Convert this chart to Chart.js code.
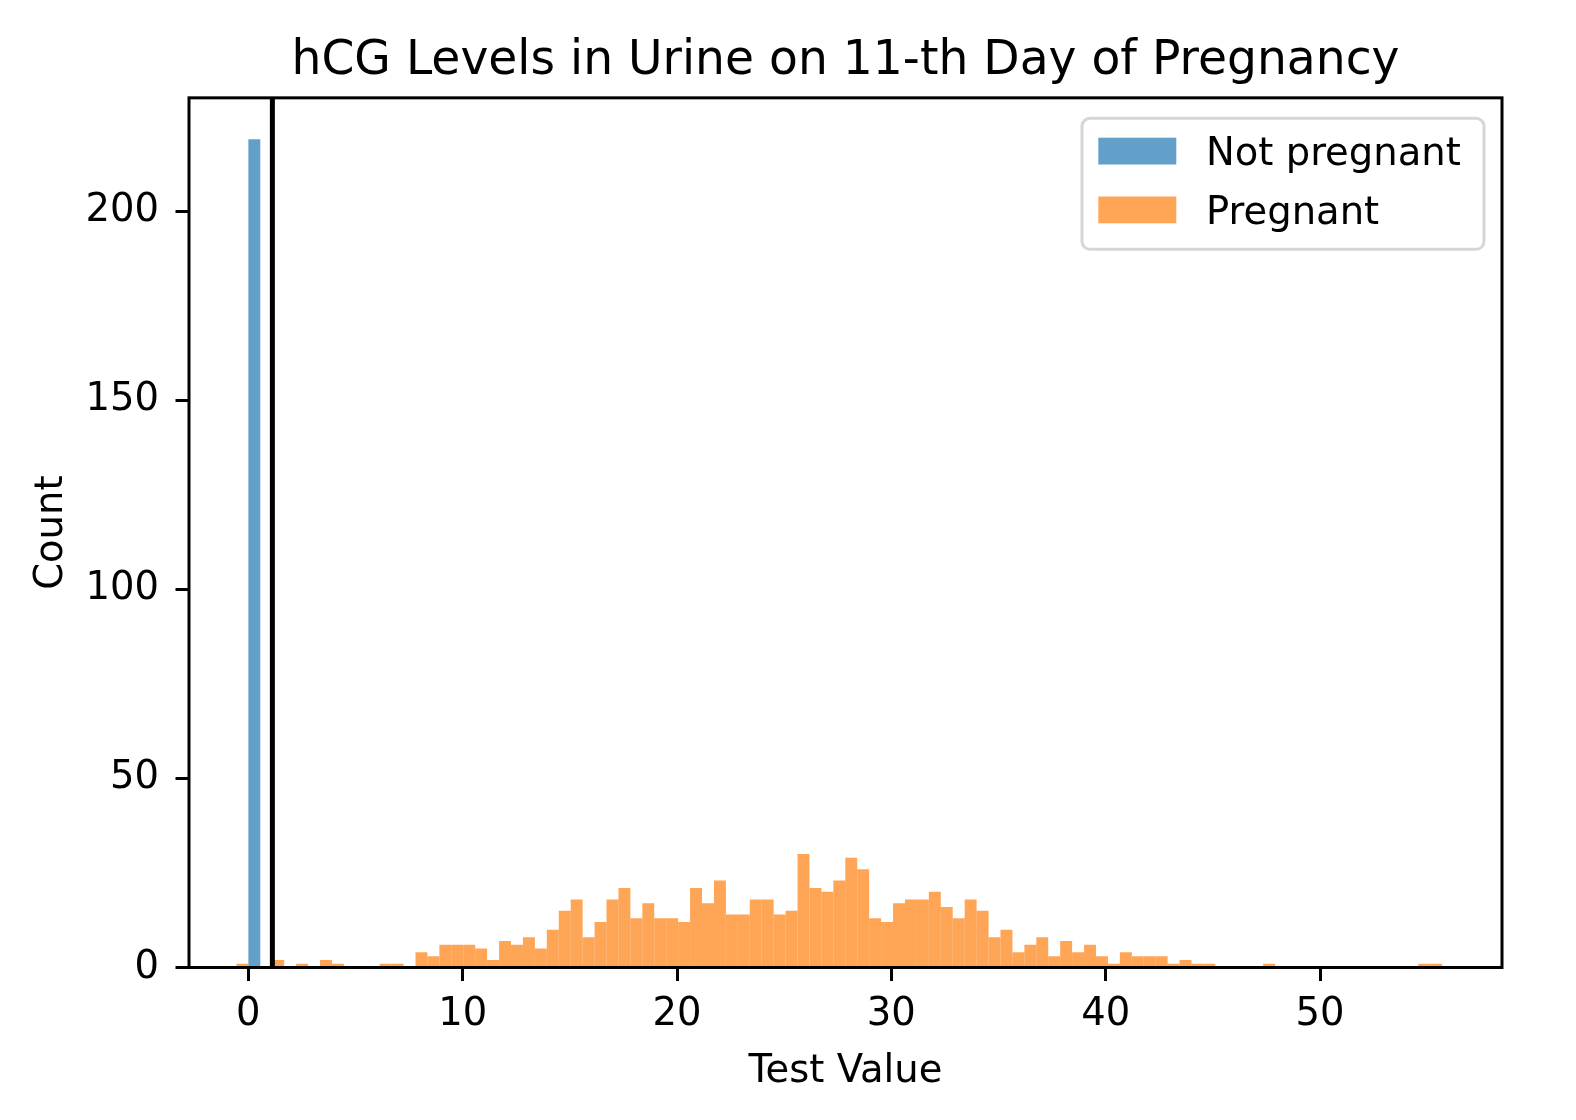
<!DOCTYPE html>
<html>
<head>
<meta charset="utf-8">
<title>hCG Levels in Urine on 11-th Day of Pregnancy</title>
<script src="https://cdn.jsdelivr.net/npm/chart.js@4/dist/chart.umd.min.js"></script>
<style>
  html, body { margin: 0; padding: 0; background: #fff; }
  #wrap { width: 1576px; height: 1120px; }
</style>
</head>
<body>
<div id="wrap"><canvas id="hist" width="1576" height="1120"></canvas></div>
<script>
// histogram bins: bin k covers [k*binWidth, (k+1)*binWidth]
const binWidth = 0.557;
const notPregnantFirstBin = 0;
const notPregnantCounts = [219];
const pregnantFirstBin = -1;
const pregnantCounts = [
  1, 0, 0, 2, 0, 1, 0, 2, 1, 0,
  0, 0, 1, 1, 0, 4, 3, 6, 6, 6,
  5, 2, 7, 6, 8, 5, 10, 15, 18, 8,
  12, 18, 21, 13, 17, 13, 13, 12, 21, 17,
  23, 14, 14, 18, 18, 14, 15, 30, 21, 20,
  23, 29, 26, 13, 12, 17, 18, 18, 20, 16,
  13, 18, 15, 8, 10, 4, 6, 8, 3, 7,
  4, 6, 3, 1, 4, 3, 3, 3, 1, 2,
  1, 1, 0, 0, 0, 0, 1, 0, 0, 0,
  0, 0, 0, 0, 0, 0, 0, 0, 0, 1,
  1
];
const threshold = 1.12;
const xTicks = [0, 10, 20, 30, 40, 50];
const yTicks = [0, 50, 100, 150, 200];
const xRange = [-2.77, 58.49];
const yRange = [0, 229.95];

const FONT = "'DejaVu Sans', sans-serif";

function toBars(counts, firstBin) {
  return counts.map((c, i) => ({ x: (firstBin + i + 0.5) * binWidth, y: c }));
}

// spines drawn over the bars, like matplotlib
const spines = {
  id: "spines",
  afterDatasetsDraw(chart) {
    const { ctx, chartArea: a } = chart;
    ctx.save();
    ctx.strokeStyle = "#000";
    ctx.lineWidth = 3;
    ctx.strokeRect(a.left, a.top, a.right - a.left, a.bottom - a.top);
    ctx.restore();
  }
};

const boxLegend = {
  id: "boxLegend",
  afterDraw(chart) {
    const { ctx } = chart;
    const items = [chart.data.datasets[0], chart.data.datasets[1]];
    ctx.save();
    ctx.beginPath();
    ctx.roundRect(1082, 118.3, 402, 131, 8);
    ctx.fillStyle = "rgba(255,255,255,0.8)";
    ctx.fill();
    ctx.strokeStyle = "#d6d6d6";
    ctx.lineWidth = 3;
    ctx.stroke();
    ctx.font = "38.5px " + FONT;
    ctx.textBaseline = "alphabetic";
    ctx.textAlign = "left";
    items.forEach((ds, i) => {
      const top = 137.7 + i * 58.8;
      ctx.fillStyle = ds.backgroundColor;
      ctx.fillRect(1098.3, top, 78, 26.8);
      ctx.fillStyle = "#000";
      ctx.fillText(ds.label, 1206, 165 + i * 58.5);
    });
    ctx.restore();
  }
};

new Chart(document.getElementById("hist"), {
  type: "bar",
  data: {
    datasets: [
      {
        label: "Not pregnant",
        data: toBars(notPregnantCounts, notPregnantFirstBin),
        backgroundColor: "rgba(31,119,180,0.7)",
        borderWidth: 0,
        inflateAmount: 0,
        barPercentage: 1,
        categoryPercentage: 1,
        grouped: false,
        order: 2
      },
      {
        label: "Pregnant",
        data: toBars(pregnantCounts, pregnantFirstBin),
        backgroundColor: "rgba(255,127,14,0.7)",
        borderWidth: 0,
        inflateAmount: 0,
        barPercentage: 1,
        categoryPercentage: 1,
        grouped: false,
        order: 1
      },
      {
        type: "line",
        label: "threshold",
        data: [{ x: threshold, y: yRange[0] }, { x: threshold, y: yRange[1] }],
        borderColor: "#000",
        borderWidth: 5,
        pointRadius: 0,
        fill: false,
        order: 0
      }
    ]
  },
  options: {
    responsive: false,
    animation: false,
    devicePixelRatio: 1,
    layout: { padding: { left: 0, right: 74, top: 0, bottom: 0 } },
    plugins: {
      legend: { display: false },
      tooltip: { enabled: false },
      title: {
        display: true,
        fullSize: false,
        text: "hCG Levels in Urine on 11-th Day of Pregnancy",
        color: "#000",
        font: { family: FONT, size: 47.2, weight: "normal", lineHeight: 1.2 },
        padding: { top: 33.5, bottom: 7.7 }
      }
    },
    scales: {
      x: {
        type: "linear",
        min: xRange[0],
        max: xRange[1],
        offset: false,
        afterBuildTicks: s => { s.ticks = xTicks.map(v => ({ value: v })); },
        afterFit: s => { s.height = 152.5; },
        grid: { display: true, offset: false, drawOnChartArea: false, drawTicks: true, tickLength: 13.5, tickWidth: 3, tickColor: "#000" },
        border: { display: false },
        ticks: { color: "#000", font: { family: FONT, size: 38.5 }, padding: 11, maxRotation: 0 },
        title: {
          display: true,
          text: "Test Value",
          color: "#000",
          font: { family: FONT, size: 38.5, lineHeight: 1.2 },
          padding: { top: 0, bottom: 25 }
        }
      },
      y: {
        type: "linear",
        min: yRange[0],
        max: yRange[1],
        afterBuildTicks: s => { s.ticks = yTicks.map(v => ({ value: v })); },
        afterFit: s => { s.width = 189; },
        grid: { display: true, drawOnChartArea: false, drawTicks: true, tickLength: 13.5, tickWidth: 3, tickColor: "#000" },
        border: { display: false },
        ticks: { color: "#000", font: { family: FONT, size: 38.5 }, padding: 16.5 },
        title: {
          display: true,
          text: "Count",
          color: "#000",
          font: { family: FONT, size: 38.5, lineHeight: 1.2 },
          padding: { top: 29, bottom: 0 }
        }
      }
    }
  },
  plugins: [spines, boxLegend]
});
</script>
</body>
</html>
